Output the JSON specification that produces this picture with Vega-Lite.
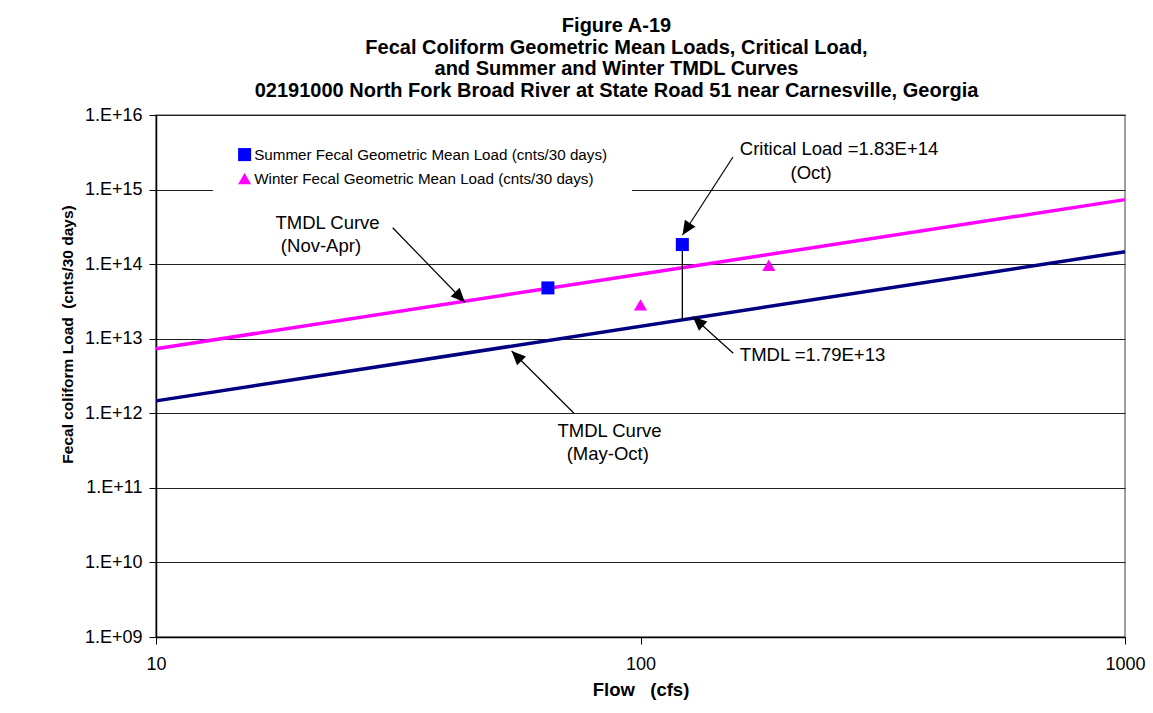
{
  "$schema": "https://vega.github.io/schema/vega-lite/v6.json",
  "width": 969,
  "height": 522,
  "autosize": {"type": "none"},
  "padding": {"left": 156, "top": 115, "right": 28, "bottom": 76},
  "background": "white",
  "title": {
    "text": ["Figure A-19", "Fecal Coliform Geometric Mean Loads,  Critical Load,", "and Summer and Winter TMDL Curves", "02191000 North Fork Broad River at State Road 51 near Carnesville, Georgia"],
    "font": "Liberation Sans",
    "fontSize": 20,
    "fontWeight": "bold",
    "lineHeight": 21.7,
    "color": "black",
    "anchor": "middle",
    "frame": "group",
    "dx": -24,
    "offset": 5
  },
  "config": {
    "view": {"stroke": "#808080", "strokeWidth": 1.5},
    "font": "Liberation Sans",
    "axis": {"labelFont": "Liberation Sans", "titleFont": "Liberation Sans", "labelColor": "black", "titleColor": "black", "domainColor": "black", "tickColor": "black"}
  },
  "datasets": {
    "curves": [
      {"curve": "TMDL Curve (Nov-Apr)", "flow": 10, "load": 7.33e12},
      {"curve": "TMDL Curve (Nov-Apr)", "flow": 1000, "load": 7.33e14},
      {"curve": "TMDL Curve (May-Oct)", "flow": 10, "load": 1.467e12},
      {"curve": "TMDL Curve (May-Oct)", "flow": 1000, "load": 1.467e14}
    ],
    "points": [
      {"series": "Summer Fecal Geometric Mean Load (cnts/30 days)", "flow": 64.4, "load": 4.8e13},
      {"series": "Summer Fecal Geometric Mean Load (cnts/30 days)", "flow": 122, "load": 1.83e14},
      {"series": "Winter Fecal Geometric Mean Load (cnts/30 days)", "flow": 100, "load": 2.84e13},
      {"series": "Winter Fecal Geometric Mean Load (cnts/30 days)", "flow": 184, "load": 9.66e13}
    ],
    "critical": [
      {"flow": 122, "tmdl": 1.79e13, "critical": 1.83e14}
    ],
    "arrows": [
      {"arrow": "a1", "end": "tail", "flow": 30.8, "load": 3.08e14},
      {"arrow": "a1", "end": "tip", "flow": 43.4, "load": 3.08e13},
      {"arrow": "a2", "end": "tail", "flow": 155.2, "load": 2.73e15},
      {"arrow": "a2", "end": "tip", "flow": 122.1, "load": 2.46e14},
      {"arrow": "a3", "end": "tail", "flow": 155.4, "load": 6.37e12},
      {"arrow": "a3", "end": "tip", "flow": 128.2, "load": 1.97e13},
      {"arrow": "a4", "end": "tail", "flow": 72.9, "load": 1.0e12},
      {"arrow": "a4", "end": "tip", "flow": 54.2, "load": 6.84e12}
    ],
    "labels": [
      {"text": "TMDL Curve", "flow": 22.6, "load": 3.56e14},
      {"text": "(Nov-Apr)", "flow": 21.9, "load": 1.75e14},
      {"text": "Critical Load =1.83E+14", "flow": 256.9, "load": 3.5e15},
      {"text": "(Oct)", "flow": 224.9, "load": 1.67e15},
      {"text": "TMDL =1.79E+13", "flow": 226.5, "load": 6.05e12},
      {"text": "TMDL Curve", "flow": 86.3, "load": 5.79e11},
      {"text": "(May-Oct)", "flow": 85.6, "load": 2.82e11}
    ]
  },
  "encoding": {
    "x": {
      "field": "flow", "type": "quantitative",
      "scale": {"type": "log", "domain": [10, 1000], "nice": false},
      "axis": {
        "title": "Flow\u00a0\u00a0\u00a0(cfs)",
        "titleFontSize": 18.5, "titleFontWeight": "bold", "titlePadding": 7,
        "values": [10, 100, 1000], "format": "d",
        "labelFontSize": 18, "labelPadding": 11, "tickSize": 7,
        "grid": false, "domainWidth": 1.5, "labelFlush": false
      }
    },
    "y": {
      "field": "load", "type": "quantitative",
      "scale": {"type": "log", "domain": [1e9, 1e16], "nice": false},
      "axis": {
        "title": "Fecal coliform Load\u00a0\u00a0(cnts/30 days)",
        "titleFontSize": 15.5, "titleFontWeight": "bold", "titlePadding": 9, "titleY": 219,
        "values": [1e9, 1e10, 1e11, 1e12, 1e13, 1e14, 1e15, 1e16],
        "labelExpr": "'1.E+' + (floor(log(datum.value)/LN10 + 0.5) < 10 ? '0' : '') + floor(log(datum.value)/LN10 + 0.5)",
        "labelFontSize": 18, "labelPadding": 7, "tickSize": 7,
        "grid": true, "gridColor": "#222222", "gridWidth": 1,
        "domainWidth": 1.5, "labelFlush": false
      }
    }
  },
  "layer": [
    {
      "data": {"name": "curves"},
      "mark": {"type": "line", "strokeWidth": 3.5},
      "encoding": {
        "detail": {"field": "curve"},
        "stroke": {"field": "curve", "type": "nominal", "scale": {"domain": ["TMDL Curve (Nov-Apr)", "TMDL Curve (May-Oct)"], "range": ["#FF00FF", "#000080"]}, "legend": null}
      }
    },
    {
      "data": {"name": "critical"},
      "mark": {"type": "rule", "color": "black", "strokeWidth": 1.3},
      "encoding": {
        "y": {"field": "tmdl", "type": "quantitative"},
        "y2": {"field": "critical"}
      }
    },
    {
      "data": {"name": "points"},
      "mark": {"type": "point", "filled": true, "opacity": 1, "size": 170},
      "encoding": {
        "color": {"field": "series", "type": "nominal", "scale": {"domain": ["Summer Fecal Geometric Mean Load (cnts/30 days)", "Winter Fecal Geometric Mean Load (cnts/30 days)"], "range": ["#0000FF", "#FF00FF"]},
          "legend": {"title": null, "orient": "none", "legendX": 57, "legendY": 8, "padding": 24, "fillColor": "white", "labelFont": "Liberation Sans", "labelFontSize": 15.2, "labelColor": "black", "labelLimit": 600, "symbolSize": 170, "rowPadding": 4, "labelOffset": 2, "symbolOpacity": 1}},
        "shape": {"field": "series", "type": "nominal", "scale": {"domain": ["Summer Fecal Geometric Mean Load (cnts/30 days)", "Winter Fecal Geometric Mean Load (cnts/30 days)"], "range": ["square", "triangle-up"]},
          "legend": {"title": null, "orient": "none", "legendX": 57, "legendY": 8, "padding": 24, "fillColor": "white", "labelFont": "Liberation Sans", "labelFontSize": 15.2, "labelColor": "black", "labelLimit": 600, "symbolSize": 170, "rowPadding": 4, "labelOffset": 2, "symbolOpacity": 1}}
      }
    },
    {
      "data": {"name": "arrows"},
      "mark": {"type": "line", "color": "black", "strokeWidth": 1.2},
      "encoding": {"detail": {"field": "arrow"}}
    },
    {
      "data": {"name": "arrows"},
      "transform": [{"filter": "datum.arrow == 'a1' && datum.end == 'tip'"}],
      "mark": {"type": "point", "shape": "M0,0L-0.9,2L0.9,2Z", "size": 196, "filled": true, "color": "black", "opacity": 1, "angle": 136}
    },
    {
      "data": {"name": "arrows"},
      "transform": [{"filter": "datum.arrow == 'a2' && datum.end == 'tip'"}],
      "mark": {"type": "point", "shape": "M0,0L-0.9,2L0.9,2Z", "size": 196, "filled": true, "color": "black", "opacity": 1, "angle": 213}
    },
    {
      "data": {"name": "arrows"},
      "transform": [{"filter": "datum.arrow == 'a3' && datum.end == 'tip'"}],
      "mark": {"type": "point", "shape": "M0,0L-0.9,2L0.9,2Z", "size": 196, "filled": true, "color": "black", "opacity": 1, "angle": 312}
    },
    {
      "data": {"name": "arrows"},
      "transform": [{"filter": "datum.arrow == 'a4' && datum.end == 'tip'"}],
      "mark": {"type": "point", "shape": "M0,0L-0.9,2L0.9,2Z", "size": 196, "filled": true, "color": "black", "opacity": 1, "angle": 315}
    },
    {
      "data": {"name": "labels"},
      "mark": {"type": "text", "font": "Liberation Sans", "fontSize": 18.5, "color": "black", "align": "center", "baseline": "middle"},
      "encoding": {"text": {"field": "text"}}
    }
  ]
}
